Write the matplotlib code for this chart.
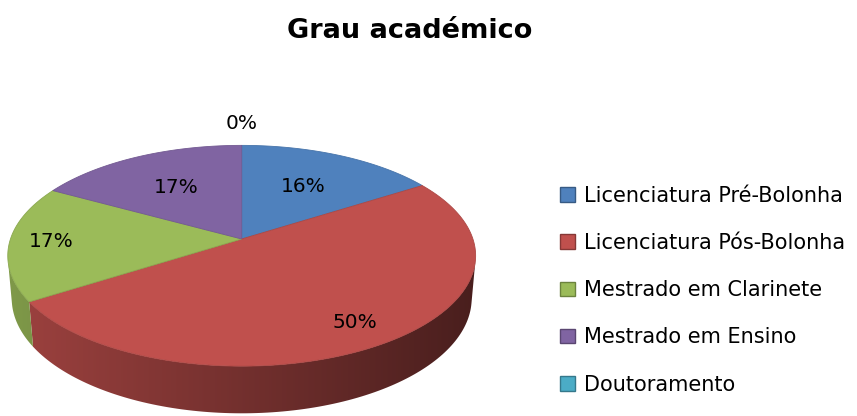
import numpy as np
import matplotlib.pyplot as plt
from matplotlib.patches import Patch, Polygon
from matplotlib.colors import to_rgb

plt.rcParams['font.family'] = ['DejaVu Sans']

# data
categories = ['Licenciatura Pré-Bolonha', 'Licenciatura Pós-Bolonha',
              'Mestrado em Clarinete', 'Mestrado em Ensino', 'Doutoramento']
values = [16, 50, 17, 17, 0]
colors = ['#4F81BD', '#C0504D', '#9BBB59', '#8064A2', '#4BACC6']
label_r = [0.6, 0.82, 0.82, 0.6, 1.28]  # where each % label sits (radius)

# simple perspective camera for the 3d pie
elev = np.radians(27.8)
L = 5.83        # camera distance (in pie radii)
h = 0.21        # pie thickness
K = 1348        # pixels per projected unit
cx, cy = 241.7, 239


def proj(r, phi, z=0.0):
    x = r * np.cos(phi)
    y = r * np.sin(phi)
    c, s = np.cos(elev), np.sin(elev)
    depth = L + y * c - z * s
    return cx + K * x / depth, cy - K * (y * s + z * c) / depth


def shade(col, f):
    return tuple(min(1, v * f) for v in to_rgb(col))


fig = plt.figure(figsize=(8.57, 4.16), dpi=100)
ax = fig.add_axes([0, 0, 1, 1])

vals = np.array(values, dtype=float)
fracs = vals / vals.sum() * 2 * np.pi
edges = np.pi / 2 - np.concatenate([[0], np.cumsum(fracs)])

# visible part of the outer wall
vis = 1 / (L * np.cos(elev))
lo, hi = -np.pi + np.arcsin(vis), -np.arcsin(vis)

# side walls with a left-to-right shading gradient
gx = np.linspace(0, 490, 500)
for i, col in enumerate(colors):
    if values[i] == 0:
        continue
    a0, a1 = min(edges[i], hi), max(edges[i + 1], lo)
    if a0 <= a1:
        continue
    ph = np.linspace(a0, a1, 120)
    xt, yt = proj(1, ph)
    xb, yb = proj(1, ph[::-1], -h)
    wall = Polygon(np.column_stack([np.concatenate([xt, xb]), np.concatenate([yt, yb])]),
                   closed=True, facecolor='none', edgecolor='none')
    ax.add_patch(wall)
    f = 0.82 - 0.44 * (gx - 8) / 468
    grad = np.array([shade(col, v) for v in f])[None, :, :]
    im = ax.imshow(grad, extent=(0, 490, 416, 100), aspect='auto', zorder=2,
                   interpolation='bilinear')
    im.set_clip_path(wall)

ax.set_xlim(0, 857)
ax.set_ylim(416, 0)
ax.axis('off')

# top faces
for i, col in enumerate(colors):
    if values[i] == 0:
        continue
    ph = np.linspace(edges[i], edges[i + 1], 200)
    xs, ys = proj(1, ph)
    xs = np.concatenate([[cx], xs])
    ys = np.concatenate([[cy], ys])
    ax.fill(xs, ys, facecolor=col, edgecolor=shade(col, 0.9), lw=0.6, zorder=3)

# percent labels
for i, v in enumerate(values):
    mid = (edges[i] + edges[i + 1]) / 2
    tx, ty = proj(label_r[i], mid)
    ax.text(tx, ty, f'{v}%', ha='center', va='center', fontsize=14.5, zorder=5)

ax.text(409.5, 31, 'Grau académico', ha='center', va='center',
        fontsize=19.5, fontweight='bold')

handles = [Patch(facecolor=c, edgecolor=shade(c, 0.7), lw=1) for c in colors]
ax.legend(handles, categories, loc='upper left', bbox_to_anchor=(0.6535, 0.554),
          frameon=False, fontsize=15, handlelength=0.7, handleheight=0.7,
          handletextpad=0.45, labelspacing=1.31, borderpad=0, borderaxespad=0)

fig.savefig('out.png', dpi=100)
